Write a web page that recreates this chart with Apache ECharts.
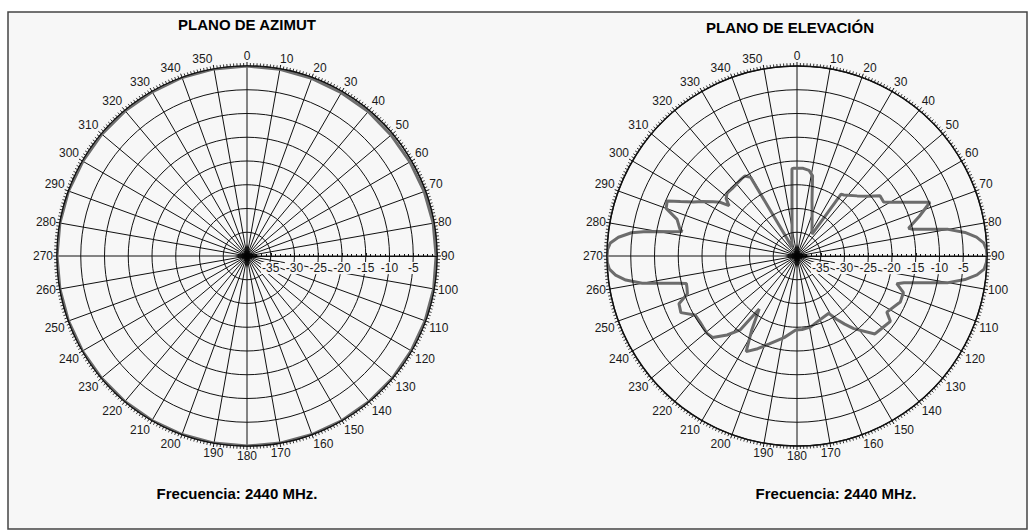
<!DOCTYPE html>
<html>
<head>
<meta charset="utf-8">
<script src="https://cdn.jsdelivr.net/npm/echarts@6/dist/echarts.min.js"></script>
<style>
  html, body { margin: 0; padding: 0; background: #ffffff; }
  #chart { width: 1031px; height: 532px; }
</style>
</head>
<body>
<div id="chart"></div>
<script>
// Antenna radiation pattern at 2440 MHz, gain in dB relative to the peak.

// Horizontal plane (azimuth): angle in degrees, gain in dB
const azimuthAngles = [0, 10, 20, 30, 40, 50, 60, 70, 80, 90, 100, 110,
  120, 130, 140, 150, 160, 170, 180, 190, 200, 210, 220, 230,
  240, 250, 260, 270, 280, 290, 300, 310, 320, 330, 340, 350];
const azimuthGain = [0, -0.1, -0.2, -0.3, -0.3, -0.4, -0.4, -0.3, -0.2, -0.2, -0.1, -0.1,
  -0.1, 0, 0, 0, 0, 0, 0, 0, 0, 0, 0, 0,
  0, 0, 0, 0, 0, 0, -0.1, -0.1, -0.1, -0.1, 0, 0];

// Vertical plane (elevation): angle in degrees, gain in dB
const elevationAngles = [0, 4, 8, 11, 15, 20, 25, 30, 34.5, 35.5, 37.5, 45, 50, 54, 58, 60, 64, 68, 72,
  76, 77, 78, 79, 80, 82, 84, 86, 88, 90, 92, 94, 96, 98, 100, 101, 102, 103, 104, 105.5,
  109, 114, 122, 125, 130, 135, 142, 145, 148, 151, 156, 163, 169, 176, 181, 189, 197.5,
  203, 208, 211.5, 215.5, 217.5, 221.5, 226, 229.5, 233, 236, 240, 244, 248, 251, 254,
  256, 257, 258, 259, 260, 262, 264, 266, 268, 270, 272, 274, 276, 278, 279, 280, 281,
  282, 283, 287, 290, 293, 295, 297.5, 300, 303, 305, 306.5, 309, 312, 316, 320, 324,
  327, 329.5, 331, 340, 345, 350, 353, 355, 356.7, 358];
const elevationGain = [-21.5, -21.5, -21.8, -22.8, -27.8, -30.7, -32.5, -33.7, -34.4, -24.0, -23.8, -22.1, -20.4, -18.4, -18.5, -17.4, -14.2, -9.8, -12.9,
  -15.8, -15.0, -13.0, -10.6, -7.7, -4.3, -2.0, -0.6, -0.1, 0, -0.1, -0.5, -1.9, -4.3, -7.7, -10.6, -13.0, -15.0, -16.8, -18.2,
  -16.3, -16.2, -17.7, -16.0, -16.5, -16.8, -20.6, -22.5, -24.3, -26.2, -26.0, -25.5, -24.8, -24.5, -24.4, -22.6, -20.6,
  -18.8, -17.2, -21.8, -26.3, -20.4, -17.8, -15.3, -15.0, -15.2, -15.3, -15.2, -12.8, -13.2, -15.6, -15.9,
  -16.0, -14.4, -12.3, -9.8, -6.9, -3.6, -1.6, -0.4, -0.05, 0, -0.1, -0.6, -2.2, -4.8, -7.3, -10.3, -13.2,
  -15.3, -14.7, -13.6, -10.7, -10.3, -12.9, -15.4, -17.1, -19.0, -20.3, -22.2, -20.8, -20.2, -20.3, -20.2, -20.0,
  -19.9, -20.8, -37.8, -36.9, -35.9, -34.0, -31.4, -27.9, -21.6, -21.5];

// Radial scale (dB) and angular scale (degrees)
const gainMin = -40, gainMax = 0, gainStep = 5;
const angleStep = 10;

const FONT = '"Liberation Sans", Arial, Helvetica, sans-serif';
const GRID = '#111111';
const TRACE = '#6c6c6c';
const PANEL = '#f7f7f7';

// The angle axis starts at east so the dB scale lies along the 90° spoke;
// values run 90..450 and are printed modulo 360, 0° ends up at the top.
function toPolarData(angles, gains) {
  const pts = angles.map((a, i) => [gains[i], a < 90 ? a + 360 : a]);
  pts.sort((p, q) => p[1] - q[1]);
  pts.push([pts[0][0], pts[0][1] + 360]);
  return pts;
}

// the labels next to "0" are nudged sideways so they do not crowd it
function angleLabel(v) {
  const a = Math.round(v) % 360;
  if (a === 10) return '{r|10}';
  if (a === 350) return '{l|350}';
  return String(a);
}

const labelText = { color: '#1a1a1a', fontSize: 12, fontFamily: FONT };
const centers = [[247, 256], [797, 256]];

const option = {
  backgroundColor: '#ffffff',
  animation: false,
  polar: centers.map(c => ({ center: c, radius: 190 })),
  angleAxis: centers.map((c, i) => ({
    polarIndex: i,
    type: 'value',
    min: 90,
    max: 450,
    interval: angleStep,
    startAngle: 0,
    clockwise: true,
    z: 1,
    axisLine: { show: true, lineStyle: { color: GRID, width: 1.5 } },
    axisTick: { show: true, length: 4, lineStyle: { color: GRID, width: 1 } },
    minorTick: { show: true, splitNumber: 10, length: 3, lineStyle: { color: '#333', width: 1 } },
    splitLine: { show: true, lineStyle: { color: GRID, width: 1 } },
    axisLabel: Object.assign({
      margin: 4,
      formatter: angleLabel,
      rich: {
        r: Object.assign({ padding: [0, 0, 0, 12] }, labelText),
        l: Object.assign({ padding: [0, 22, 0, 0] }, labelText)
      }
    }, labelText)
  })),
  radiusAxis: centers.map((c, i) => ({
    polarIndex: i,
    type: 'value',
    min: gainMin,
    max: gainMax,
    interval: gainStep,
    z: 4,
    axisLine: { show: true, lineStyle: { color: GRID, width: 1 } },
    axisTick: { show: true, length: 3, lineStyle: { color: GRID, width: 1 } },
    minorTick: { show: true, splitNumber: 5, length: 2, lineStyle: { color: GRID, width: 1 } },
    splitLine: { show: true, lineStyle: { color: GRID, width: 1 } },
    axisLabel: Object.assign({
      margin: -18,
      backgroundColor: PANEL,
      padding: [0, 1],
      formatter: v => (v <= gainMin || v >= gainMax) ? '' : String(v)
    }, labelText)
  })),
  series: [
    {
      type: 'line', coordinateSystem: 'polar', polarIndex: 0,
      data: toPolarData(azimuthAngles, azimuthGain),
      symbol: 'none', smooth: false, z: 3,
      lineStyle: { color: TRACE, width: 3 }
    },
    {
      type: 'line', coordinateSystem: 'polar', polarIndex: 1,
      data: toPolarData(elevationAngles, elevationGain),
      symbol: 'none', smooth: false, z: 3,
      lineStyle: { color: TRACE, width: 3 }
    },
    // dark hub where all spokes meet
    ...centers.map((c, i) => ({
      type: 'scatter', coordinateSystem: 'polar', polarIndex: i,
      data: [[gainMin, 90]],
      symbol: 'path://M0,-14 L3.5,-3.5 L14,0 L3.5,3.5 L0,14 L-3.5,3.5 L-14,0 L-3.5,-3.5 Z',
      symbolSize: [24, 24],
      itemStyle: { color: '#000' },
      silent: true, z: 5
    }))
  ],
  graphic: {
    elements: [
      {
        type: 'rect', z: -10, silent: true,
        shape: { x: 8, y: 12, width: 1019, height: 517 },
        style: { fill: PANEL, stroke: '#444', lineWidth: 1.5 }
      },
      {
        type: 'text', x: 247, y: 24, silent: true,
        style: { text: 'PLANO DE AZIMUT', font: 'bold 15px ' + FONT, fill: '#000', align: 'center', verticalAlign: 'middle' }
      },
      {
        type: 'text', x: 790, y: 27, silent: true,
        style: { text: 'PLANO DE ELEVACIÓN', font: 'bold 15px ' + FONT, fill: '#000', align: 'center', verticalAlign: 'middle' }
      },
      {
        type: 'text', x: 237, y: 493, silent: true,
        style: { text: 'Frecuencia: 2440 MHz.', font: 'bold 15px ' + FONT, fill: '#000', align: 'center', verticalAlign: 'middle' }
      },
      {
        type: 'text', x: 836, y: 493, silent: true,
        style: { text: 'Frecuencia: 2440 MHz.', font: 'bold 15px ' + FONT, fill: '#000', align: 'center', verticalAlign: 'middle' }
      }
    ]
  }
};

const chart = echarts.init(document.getElementById('chart'), null, { renderer: 'svg', width: 1031, height: 532 });
chart.setOption(option);
</script>
</body>
</html>
